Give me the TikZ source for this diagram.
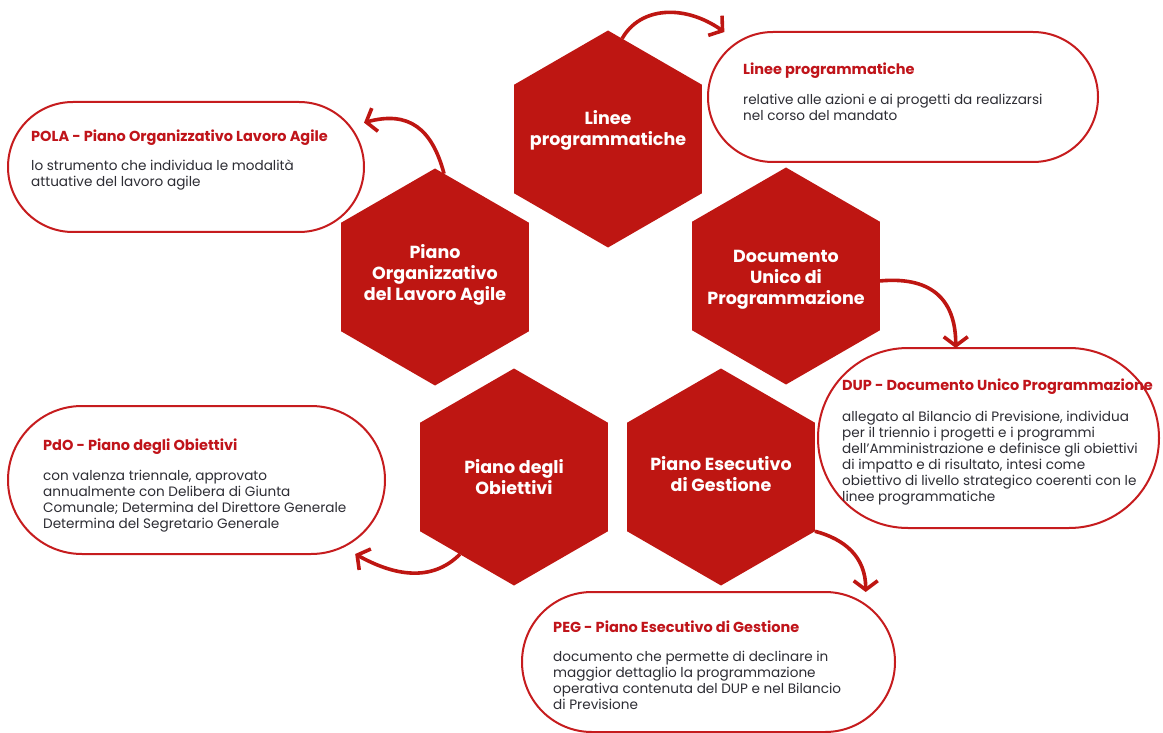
\documentclass[tikz,border=0pt]{standalone}
\usepackage{fontspec}
\setmainfont{Poppins}
\usetikzlibrary{shapes.geometric,arrows.meta}
\definecolor{hexred}{RGB}{190,22,18}
\definecolor{linered}{RGB}{198,28,30}
\definecolor{headred}{RGB}{192,20,26}
\definecolor{bodygray}{RGB}{45,45,52}
\begin{document}
\begin{tikzpicture}[x=1pt,y=-1pt,
  hexa/.style={regular polygon, regular polygon sides=6, shape border rotate=30,
    minimum size=217pt, inner sep=0pt, outer sep=0pt, fill=hexred, draw=none},
  hextext/.style={text=white, font=\bfseries\fontsize{17.5}{21}\selectfont, align=center, inner sep=0pt},
  pill/.style={rectangle, draw=linered, line width=2pt, fill=white, inner sep=0pt, outer sep=0pt},
  head/.style={anchor=west, inner sep=0pt, text=headred, font=\bfseries\fontsize{14.5}{16}\selectfont},
  body/.style={anchor=north west, inner sep=0pt, text=bodygray, align=left, font=\fontsize{13.6}{16}\selectfont},
  arr/.style={draw=hexred, line width=3.6pt, -{Straight Barb[length=9pt,width=24pt]}}
]
\useasboundingbox (0,0) rectangle (1163,733);

% hexagons
\node[hexa] (hL) at (608,139) {};
\node[hexa] (hD) at (786,276) {};
\node[hexa] (hP) at (435,277) {};
\node[hexa] (hO) at (514,477) {};
\node[hexa] (hG) at (721,477) {};

\node[hextext] (tL) at (608,130) {Linee\\programmatiche};
\node[hextext] (tD) at (786,280) {Documento\\Unico di\\Programmazione};
\node[hextext] (tP) at (435,275) {Piano\\Organizzativo\\del Lavoro Agile};
\node[hextext] (tO) at (514,477) {Piano degli\\Obiettivi};
\node[hextext] (tG) at (721,474) {Piano Esecutivo\\di Gestione};

% pills
\node[pill, minimum width=390pt, minimum height=130pt, rounded corners=64.9pt] (pA) at (903,97) {};
\node[pill, minimum width=356pt, minimum height=130pt, rounded corners=64.9pt] (pB) at (186,167) {};
\node[pill, minimum width=341pt, minimum height=180pt, rounded corners=89.9pt] (pC) at (988.5,438) {};
\node[pill, minimum width=377pt, minimum height=148pt, rounded corners=73.9pt] (pD) at (196.5,480) {};
\node[pill, minimum width=373pt, minimum height=140pt, rounded corners=69.9pt] (pE) at (708.5,662) {};

% pill texts
\node[head] (hA) at (743,71) {Linee programmatiche};
\node[body] (bA) at (743,94) {relative alle azioni e ai progetti da realizzarsi\\nel corso del mandato};

\node[head] (hB) at (31,138) {POLA - Piano Organizzativo Lavoro Agile};
\node[body] (bB) at (31,160) {lo strumento che individua le modalità\\attuative del lavoro agile};

\node[head] (hC) at (842,387) {DUP - Documento Unico Programmazione};
\node[body] (bC) at (842,411) {allegato al Bilancio di Previsione, individua\\per il triennio i progetti e i programmi\\dell'Amministrazione e definisce gli obiettivi\\di impatto e di risultato, intesi come\\obiettivo di livello strategico coerenti con le\\linee programmatiche};

\node[head] (hDd) at (43,447) {PdO - Piano degli Obiettivi};
\node[body] (bD) at (43,470) {con valenza triennale, approvato\\annualmente con Delibera di Giunta\\Comunale; Determina del Direttore Generale\\Determina del Segretario Generale};

\node[head] (hE) at (553,627) {PEG - Piano Esecutivo di Gestione};
\node[body] (bE) at (553,651) {documento che permette di declinare in\\maggior dettaglio la programmazione\\operativa contenuta del DUP e nel Bilancio\\di Previsione};

% arrows
\draw[arr] (hL.82) .. controls +(18,-32) and +(-40,-28) .. (pA.160);
\draw[arr] (hP.85) .. controls +(-12,-45) and +(45,-12) .. (pB.14);
\draw[arr] (hD.-3) .. controls +(55,-5) and +(0,-45) .. (pC.110);
\draw[arr] (hG.-30) .. controls +(30,8) and +(0,-35) .. (pE.24);
\draw[arr] (hO.235) .. controls +(-25,25) and +(45,25) .. (pD.-25);
\end{tikzpicture}
\end{document}
